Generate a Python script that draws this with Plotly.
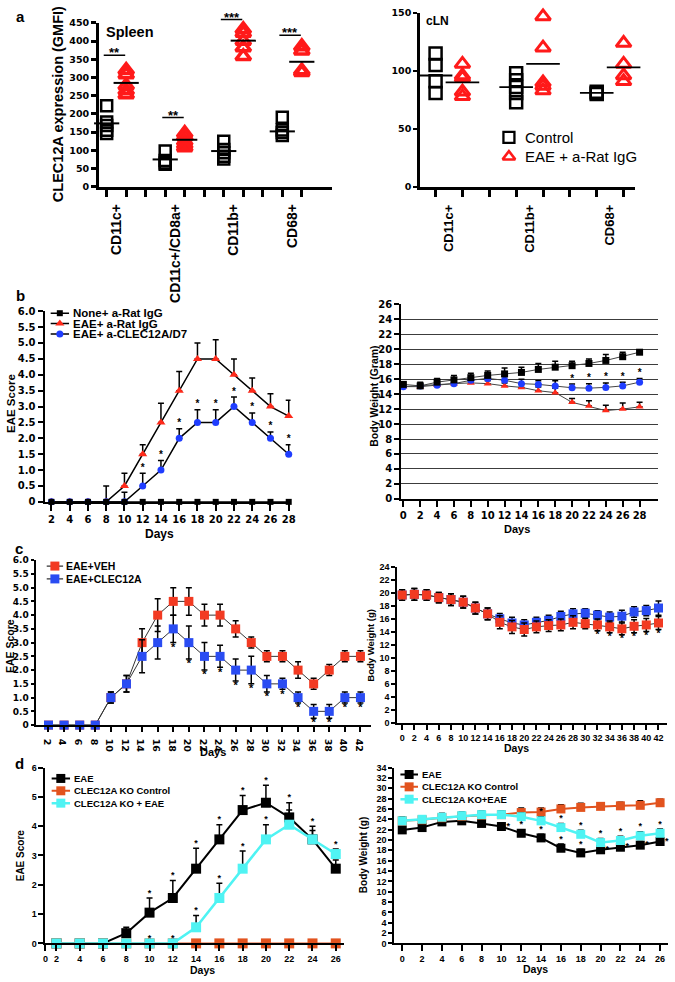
import plotly.graph_objects as go

W, H = 675, 982

# ======================= DATA =======================
# --- panel a, spleen ---
spleen_cats = ["CD11c+", "CD11c+/CD8a+", "CD11b+", "CD68+"]
spleen_ctrl = [[222, 178, 168, 155, 146], [98, 72, 65, 62], [125, 102, 93, 84, 76], [191, 156, 149, 141]]
spleen_eae = [[320, 308, 278, 264, 253], [147, 138, 125, 116, 108], [432, 422, 400, 382, 358], [385, 373, 319, 314]]
spleen_ctrl_mean = [174, 75, 98, 152]
spleen_eae_mean = [285, 129, 401, 343]
spleen_sig_y = [361, 190, 459, 416]
spleen_sig = ["**", "**", "***", "***"]
spleen_yticks = [0, 50, 100, 150, 200, 250, 300, 350, 400, 450]

# --- panel a, cLN ---
cln_cats = ["CD11c+", "CD11b+", "CD68+"]
cln_ctrl = [[115, 105, 91, 81], [98, 92, 86, 81, 73], [82, 81, 80]]
cln_eae = [[106, 96, 94, 82, 78], [147, 120, 90, 87, 83], [124, 106, 96, 91]]
cln_ctrl_mean = [96, 86, 81]
cln_eae_mean = [90, 106, 103]
cln_yticks = [0, 50, 100, 150]
cln_yticktext = ["0", "50", "100", "150"]

# --- panel b, EAE score ---
b_days = [2, 4, 6, 8, 10, 12, 14, 16, 18, 20, 22, 24, 26, 28]
b_none = [0, 0, 0, 0, 0, 0, 0, 0, 0, 0, 0, 0, 0, 0]
b_igg = [0, 0, 0, 0, 0.5, 1.5, 2.5, 3.5, 4.5, 4.5, 4.0, 3.5, 3.0, 2.7]
b_igg_err = [0, 0, 0, 0.5, 0.4, 0.3, 0.6, 0.6, 0.5, 0.6, 0.5, 0.4, 0.4, 0.5]
b_d7 = [0, 0, 0, 0, 0, 0.5, 1.0, 2.0, 2.5, 2.5, 3.0, 2.5, 2.0, 1.5]
b_d7_err = [0, 0, 0, 0, 0.3, 0.4, 0.3, 0.3, 0.4, 0.4, 0.3, 0.3, 0.2, 0.3]
b_d7_star = [0, 0, 0, 0, 0, 1, 1, 1, 1, 1, 1, 1, 1, 1]
b_names = ["None+ a-Rat IgG", "EAE+ a-Rat IgG", "EAE+ a-CLEC12A/D7"]
score_ticks = [0, 0.5, 1.0, 1.5, 2.0, 2.5, 3.0, 3.5, 4.0, 4.5, 5.0, 5.5, 6.0]
score_ticktext = ["0", "0.5", "1.0", "1.5", "2.0", "2.5", "3.0", "3.5", "4.0", "4.5", "5.0", "5.5", "6.0"]

# --- panel b, body weight ---
bw_days = [0, 2, 4, 6, 8, 10, 12, 14, 16, 18, 20, 22, 24, 26, 28]
bw_none = [15.3, 15.1, 15.6, 15.9, 16.2, 16.5, 16.7, 16.9, 17.3, 17.6, 17.8, 18.1, 18.5, 19.0, 19.6]
bw_none_err = [0.3, 0.5, 0.5, 0.6, 0.6, 0.6, 0.8, 0.7, 0.8, 0.8, 0.6, 0.6, 0.8, 0.6, 0.3]
bw_igg = [15.0, 15.0, 15.2, 15.4, 15.5, 15.4, 15.1, 14.9, 14.45, 14.2, 12.9, 12.4, 11.8, 12.0, 12.3]
bw_igg_err = [0.3, 0.3, 0.3, 0.4, 0.4, 0.4, 0.4, 0.5, 0.5, 0.6, 0.5, 0.7, 0.7, 0.8, 0.6]
bw_d7 = [15.0, 15.1, 15.2, 15.4, 15.85, 16.1, 15.85, 15.4, 15.3, 15.1, 14.85, 14.8, 14.9, 15.1, 15.6]
bw_d7_err = [0.3, 0.3, 0.3, 0.4, 0.4, 0.5, 0.5, 0.6, 0.5, 0.7, 0.5, 0.6, 0.6, 0.5, 0.5]
bw_d7_star = [0, 0, 0, 0, 0, 0, 0, 0, 0, 0, 1, 1, 1, 1, 1]
bw_ticks = [0, 2, 4, 6, 8, 10, 12, 14, 16, 18, 20, 22, 24, 26]

# --- panel c, EAE score ---
c_days = [2, 4, 6, 8, 10, 12, 14, 16, 18, 20, 22, 24, 26, 28, 30, 32, 34, 36, 38, 40, 42]
c_veh = [0, 0, 0, 0, 1.0, 1.5, 3.0, 4.0, 4.5, 4.5, 4.0, 4.0, 3.5, 3.0, 2.5, 2.5, 2.0, 1.5, 2.0, 2.5, 2.5]
c_veh_err = [0, 0, 0, 0, 0.2, 0.3, 0.5, 0.6, 0.5, 0.5, 0.4, 0.4, 0.3, 0.2, 0.2, 0.2, 0.3, 0.2, 0.2, 0.2, 0.2]
c_clec = [0, 0, 0, 0, 1.0, 1.5, 2.5, 3.0, 3.5, 3.0, 2.5, 2.5, 2.0, 2.0, 1.5, 1.5, 1.0, 0.5, 0.5, 1.0, 1.0]
c_clec_err = [0, 0, 0, 0, 0.2, 0.3, 0.6, 0.6, 0.5, 0.6, 0.5, 0.4, 0.4, 0.5, 0.3, 0.2, 0.2, 0.25, 0.25, 0.2, 0.2]
c_clec_star = [0, 0, 0, 0, 0, 0, 0, 0, 1, 1, 1, 1, 1, 1, 1, 1, 1, 1, 1, 1, 1]
c_names = ["EAE+VEH", "EAE+CLEC12A"]

# --- panel c, body weight ---
cw_days = [0, 2, 4, 6, 8, 10, 12, 14, 16, 18, 20, 22, 24, 26, 28, 30, 32, 34, 36, 38, 40, 42]
cw_veh = [19.7, 19.8, 19.7, 19.3, 19.0, 18.6, 17.7, 16.8, 15.5, 14.8, 14.4, 14.8, 15.0, 15.1, 15.5, 15.3, 15.1, 14.8, 14.5, 14.9, 15.1, 15.4]
cw_veh_err = [0.8, 0.9, 0.8, 0.8, 0.9, 0.9, 0.9, 0.9, 1.0, 1.0, 1.0, 0.9, 0.9, 0.9, 1.0, 0.8, 0.9, 0.9, 0.9, 1.0, 1.0, 1.0]
cw_clec = [19.7, 19.8, 19.7, 19.3, 19.0, 18.6, 17.7, 16.8, 16.05, 15.4, 15.1, 15.5, 15.8, 16.4, 16.8, 16.9, 16.6, 16.3, 16.45, 17.1, 17.3, 17.7]
cw_clec_err = [0.8, 0.9, 0.8, 0.8, 0.9, 0.9, 0.9, 0.9, 0.8, 0.9, 0.8, 0.8, 0.8, 0.8, 0.8, 0.7, 0.7, 0.8, 0.9, 0.8, 0.8, 1.1]
cw_veh_star = [0, 0, 0, 0, 0, 0, 0, 0, 0, 0, 0, 0, 0, 0, 0, 0, 1, 1, 1, 1, 1, 1]
cw_ticks = [0, 2, 4, 6, 8, 10, 12, 14, 16, 18, 20, 22, 24]

# --- panel d, EAE score ---
d_days = [2, 4, 6, 8, 10, 12, 14, 16, 18, 20, 22, 24, 26]
d_eae = [0, 0, 0, 0.35, 1.05, 1.55, 2.55, 3.55, 4.55, 4.8, 4.3, 3.55, 2.55]
d_eae_err = [0, 0, 0, 0.2, 0.5, 0.6, 0.7, 0.5, 0.5, 0.6, 0.5, 0.45, 0.3]
d_ko_ctrl = [0, 0, 0, 0, 0, 0, 0, 0, 0, 0, 0, 0, 0]
d_ko_eae = [0, 0, 0, 0, 0, 0, 0.55, 1.55, 2.55, 3.55, 4.05, 3.55, 3.05]
d_ko_eae_err = [0, 0, 0, 0, 0, 0, 0.4, 0.5, 0.6, 0.5, 0.5, 0.3, 0.17]
d_eae_star = [0, 0, 0, 0, 1, 1, 1, 1, 1, 1, 1, 1, 0]
d_ko_eae_star = [0, 0, 0, 0, 1, 1, 1, 1, 1, 1, 0, 0, 1]
d_xticktext = ["0", "2", "4", "6", "8", "10", "12", "14", "16", "18", "20", "22", "24", "26"]
d_names_left = ["EAE", "CLEC12A KO Control", "CLEC12A KO + EAE"]

# --- panel d, body weight ---
dw_days = [0, 2, 4, 6, 8, 10, 12, 14, 16, 18, 20, 22, 24, 26]
dw_eae = [21.95, 22.4, 23.5, 23.7, 23.2, 22.6, 21.3, 20.4, 18.4, 17.5, 18.1, 18.6, 19.0, 19.7]
dw_eae_err = [0.6, 0.6, 0.6, 0.6, 0.6, 0.7, 0.7, 0.7, 0.8, 0.7, 0.7, 0.6, 0.7, 0.7]
dw_ko_ctrl = [23.7, 23.9, 24.3, 24.6, 24.8, 24.9, 25.3, 25.4, 26.0, 26.3, 26.5, 26.6, 26.7, 27.2]
dw_ko_ctrl_err = [0.7, 0.7, 0.8, 0.7, 0.7, 0.7, 0.9, 0.8, 0.8, 0.8, 0.7, 0.7, 0.9, 0.7]
dw_ko_eae = [23.7, 24.0, 24.4, 24.7, 24.9, 24.9, 24.5, 23.7, 22.4, 21.1, 19.5, 19.9, 20.8, 21.3]
dw_ko_eae_err = [0.7, 0.7, 0.7, 0.7, 0.7, 0.7, 0.7, 0.8, 0.8, 0.8, 0.8, 0.8, 0.8, 0.8]
dw_eae_star_top = [0, 0, 0, 0, 0, 0, 1, 1, 1, 1, 0, 0, 0, 0]
dw_eae_star_side = [0, 0, 0, 0, 0, 1, 0, 0, 0, 0, 1, 1, 1, 1]
dw_ko_eae_star = [0, 0, 0, 0, 0, 0, 0, 1, 1, 1, 1, 1, 1, 1]
dw_ticks = [0, 2, 4, 6, 8, 10, 12, 14, 16, 18, 20, 22, 24, 26, 28, 30, 32, 34]
d_names_right = ["EAE", "CLEC12A KO Control", "CLEC12A KO+EAE"]

# ======================= STYLE =======================
ARIAL = "Liberation Sans, Arial, sans-serif"
DEJAVU = "DejaVu Sans, sans-serif"
RED_B = "#ff2a1a"
BLUE_B = "#1f3dff"
RED_C = "#f23a22"
BLUE_C = "#2a4cf2"
RED_D = "#e2531e"
CYAN_D = "#4ff3f3"


def dx(l, r):
    return [l / W, r / W]


def dy(t, b):
    return [1 - b / H, 1 - t / H]


def px2x(p):
    return p / W


def px2y(p):
    return 1 - p / H


fig = go.Figure()
layout = dict(width=W, height=H, margin=dict(l=0, r=0, t=0, b=0),
              paper_bgcolor="white", plot_bgcolor="rgba(0,0,0,0)", showlegend=False,
              font=dict(family=ARIAL, color="black"))
annotations = []
shapes = []


def axis(domain, anchor, rng, tickfont, **kw):
    d = dict(domain=domain, anchor=anchor, range=rng, showline=True, linecolor="black",
             linewidth=2, ticks="outside", tickcolor="black", tickwidth=1.8, ticklen=5,
             showgrid=False, zeroline=False, tickfont=tickfont, fixedrange=True)
    d.update(kw)
    return d


def bold(size, fam=ARIAL):
    return dict(family=fam, size=size, color="black", weight="bold")


def ann(text, x, y, size, angle=0, weight="bold", xanchor="center", yanchor="middle", fam=ARIAL):
    annotations.append(dict(text=text, x=px2x(x), y=px2y(y), xref="paper", yref="paper",
                            showarrow=False, textangle=angle, xanchor=xanchor, yanchor=yanchor,
                            font=dict(family=fam, size=size, color="black", weight=weight)))


def series(xa, ya, x, y, color, symbol, size, lcolor, lwidth, up=None, down=None, mlw=0,
           mode="lines+markers", ecolor="black"):
    err = None
    if up is not None:
        err = dict(type="data", symmetric=False, array=up,
                   arrayminus=down if down is not None else [0] * len(up),
                   color=ecolor, thickness=1.5, width=3, visible=True)
    fig.add_trace(go.Scatter(x=x, y=y, xaxis=xa, yaxis=ya, mode=mode,
                             line=dict(color=lcolor, width=lwidth),
                             marker=dict(symbol=symbol, size=size, color=color,
                                         line=dict(width=mlw, color=color)),
                             error_y=err, cliponaxis=False, hoverinfo="skip"))


def stars(xa, ya, x, base, flags, pos, size=10, text="*"):
    xs = [xi for xi, f in zip(x, flags) if f]
    ys = [bi for bi, f in zip(base, flags) if f]
    fig.add_trace(go.Scatter(x=xs, y=ys, xaxis=xa, yaxis=ya, mode="text", text=[text] * len(xs),
                             textposition=pos, textfont=bold(size), cliponaxis=False,
                             hoverinfo="skip"))


# ======================= PANEL a (spleen) =======================
ax_x = []
for i, cat in enumerate(spleen_cats):
    pc, pe = 3 * i + 1, 3 * i + 2
    fig.add_trace(go.Scatter(x=[pc] * len(spleen_ctrl[i]), y=spleen_ctrl[i], xaxis="x", yaxis="y",
                             mode="markers", cliponaxis=False,
                             marker=dict(symbol="square-open", size=11, color="black",
                                         line=dict(width=2.5, color="black"))))
    fig.add_trace(go.Scatter(x=[pe] * len(spleen_eae[i]), y=spleen_eae[i], xaxis="x", yaxis="y",
                             mode="markers", cliponaxis=False,
                             marker=dict(symbol="triangle-up-open", size=13, color="#ff1a1a",
                                         line=dict(width=3.5, color="#ff1a1a"))))
    fig.add_trace(go.Scatter(x=[pc, pe], y=[spleen_ctrl_mean[i], spleen_eae_mean[i]], xaxis="x",
                             yaxis="y", mode="markers", cliponaxis=False,
                             marker=dict(symbol="line-ew-open", size=18, color="black",
                                         line=dict(width=2, color="black"))))
    yd = spleen_sig_y[i] / spleen_yticks[-1]
    shapes.append(dict(type="line", xref="x", yref="y domain", x0=pc - 0.15, x1=pe - 0.05,
                       y0=yd, y1=yd, line=dict(color="black", width=1.5)))
    annotations.append(dict(text=spleen_sig[i], xref="x", yref="y domain", x=(pc + pe) / 2 - 0.1,
                            y=yd, yanchor="bottom", yshift=-7, showarrow=False,
                            font=bold(13)))
    ax_x.append(pc + 0.5)

n = len(spleen_cats)
layout["xaxis"] = axis(dx(97, 333), "y", [0.6, 3 * n + 0.55], bold(14),
                       tickmode="array", tickvals=ax_x, ticktext=spleen_cats, tickangle=-90,
                       ticklen=9, tickcolor="rgba(0,0,0,0)", linewidth=2.5,
                       minor=dict(tickmode="array", tickvals=list(range(1, 3 * n)), ticks="outside",
                                  ticklen=7, tickwidth=2.5, tickcolor="black"))
layout["yaxis"] = axis(dy(17, 183), "x", [0, spleen_yticks[-1]], bold(9.5, DEJAVU),
                       tickmode="array", tickvals=spleen_yticks, linewidth=2.5, tickwidth=2.5, ticklen=5)
ann("CLEC12A expression (GMFI)", 55, 99, 14.5, angle=-90)
ann("Spleen", 102, 26, 14.5, xanchor="left")
ann("a", 11, 11, 15, xanchor="left")

# ======================= PANEL a (cLN) =======================
ax_x2 = []
for i, cat in enumerate(cln_cats):
    pc, pe = 3 * i + 1, 3 * i + 2
    fig.add_trace(go.Scatter(x=[pc] * len(cln_ctrl[i]), y=cln_ctrl[i], xaxis="x2", yaxis="y2",
                             mode="markers", cliponaxis=False,
                             marker=dict(symbol="square-open", size=12, color="black",
                                         line=dict(width=2.5, color="black"))))
    fig.add_trace(go.Scatter(x=[pe] * len(cln_eae[i]), y=cln_eae[i], xaxis="x2", yaxis="y2",
                             mode="markers", cliponaxis=False,
                             marker=dict(symbol="triangle-up-open", size=13, color="#ff1a1a",
                                         line=dict(width=3, color="#ff1a1a"))))
    fig.add_trace(go.Scatter(x=[pc, pe], y=[cln_ctrl_mean[i], cln_eae_mean[i]], xaxis="x2",
                             yaxis="y2", mode="markers", cliponaxis=False,
                             marker=dict(symbol="line-ew-open", size=24, color="black",
                                         line=dict(width=1.8, color="black"))))
    ax_x2.append(pc + 0.5)
m = len(cln_cats)
layout["xaxis2"] = axis(dx(422, 640), "y2", [0.42, 3 * m - 0.56], bold(13),
                        tickmode="array", tickvals=ax_x2, ticktext=cln_cats, tickangle=-90,
                        ticklen=10, tickcolor="rgba(0,0,0,0)", linewidth=2.5,
                        minor=dict(tickmode="array", tickvals=list(range(1, 3 * m)), ticks="outside",
                                   ticklen=7, tickwidth=2.5, tickcolor="black"))
layout["yaxis2"] = axis(dy(7, 183), "x2", [0, cln_yticks[-1]], bold(9.5, DEJAVU),
                        tickmode="array", tickvals=cln_yticks, ticktext=cln_yticktext,
                        linewidth=2.5, ticklen=4)
ann("cLN", 426, 15, 12, xanchor="left")

# ======================= PANEL b (score) =======================
series("x3", "y3", b_days, b_igg, RED_B, "triangle-up", 8, "black", 1.5, up=b_igg_err)
series("x3", "y3", b_days, b_d7, BLUE_B, "circle", 7, "black", 1.5, up=b_d7_err)
series("x3", "y3", b_days, b_none, "black", "square", 6, "black", 1.5)
stars("x3", "y3", b_days, [v + e for v, e in zip(b_d7, b_d7_err)], b_d7_star, "top center", 10)
layout["xaxis3"] = axis(dx(42, 291), "y3", [1.24, 28.2], bold(10, DEJAVU),
                        tickmode="array", tickvals=b_days, ticklen=7)
layout["yaxis3"] = axis(dy(309, 502), "x3", [0, 6.0], bold(10, DEJAVU),
                        tickmode="array", tickvals=score_ticks, ticktext=score_ticktext)
ann("EAE Score", 8, 402, 11.5, angle=-90)
ann("Days", 158, 535, 12)
ann("b", 11, 293, 15, xanchor="left")

# ======================= PANEL b (weight) =======================
series("x4", "y4", bw_days, bw_igg, RED_B, "triangle-up", 7, "#444444", 1, up=bw_igg_err)
series("x4", "y4", bw_days, bw_d7, BLUE_B, "circle", 7, "#444444", 1, up=bw_d7_err)
series("x4", "y4", bw_days, bw_none, "black", "square", 7, "#444444", 1, up=bw_none_err)
stars("x4", "y4", bw_days, [v + e for v, e in zip(bw_d7, bw_d7_err)], bw_d7_star, "top center", 10)
layout["xaxis4"] = axis(dx(403, 663), "y4", [-0.25, 30.2], bold(10, DEJAVU),
                        tickmode="array", tickvals=bw_days, ticklen=6)
layout["yaxis4"] = axis(dy(302, 499), "x4", [0, 26], bold(10, DEJAVU),
                        tickmode="array", tickvals=bw_ticks, showgrid=True,
                        gridcolor="#3c3c3c", gridwidth=1.3)
ann("Body Weight (Gram)", 376, 395, 10.5, angle=-90)
ann("Days", 520, 529, 11)

# ======================= PANEL c (score) =======================
series("x5", "y5", c_days, c_veh, RED_C, "square", 9, "#333333", 1, up=c_veh_err, down=c_veh_err)
series("x5", "y5", c_days, c_clec, BLUE_C, "square", 9, "#333333", 1, up=c_clec_err, down=c_clec_err)
stars("x5", "y5", c_days, [v - e for v, e in zip(c_clec, c_clec_err)], c_clec_star, "bottom center", 11)
layout["xaxis5"] = axis(dx(33, 372), "y5", [0.35, 43.3], bold(9.5, DEJAVU),
                        tickmode="array", tickvals=c_days, ticklen=5)
layout["yaxis5"] = axis(dy(561, 728), "x5", [0, 6.0], bold(9, DEJAVU),
                        tickmode="array", tickvals=score_ticks, ticktext=score_ticktext, ticklen=3)
ann("EAE Score", 7, 648, 10.5, angle=-90)
ann("Days", 213, 755, 11)
ann("c", 10, 549, 15, xanchor="left")

# ======================= PANEL c (weight) =======================
series("x6", "y6", cw_days, cw_clec, BLUE_C, "square", 9, "#333333", 1, up=cw_clec_err, down=cw_clec_err)
series("x6", "y6", cw_days, cw_veh, RED_C, "square", 9, "#333333", 1, up=cw_veh_err, down=cw_veh_err)
stars("x6", "y6", cw_days, [v - e for v, e in zip(cw_veh, cw_veh_err)], cw_veh_star, "bottom center", 10)
layout["xaxis6"] = axis(dx(399, 672), "y6", [-0.8, 43.4], bold(9),
                        tickmode="array", tickvals=cw_days, ticklen=5)
layout["yaxis6"] = axis(dy(568, 726), "x6", [0, 24], bold(9),
                        tickmode="array", tickvals=cw_ticks, ticklen=4)
ann("Body Weight (g)", 372, 647, 9.5, angle=-90)
ann("Days", 520, 751, 10.5)

# ======================= PANEL d (score) =======================
series("x7", "y7", d_days, d_eae, "black", "square", 10, "black", 2, up=d_eae_err)
series("x7", "y7", d_days, d_ko_ctrl, RED_D, "square", 10, RED_D, 2)
series("x7", "y7", d_days, d_ko_eae, CYAN_D, "square", 10, CYAN_D, 2.5, up=d_ko_eae_err)
stars("x7", "y7", d_days, [v + e for v, e in zip(d_eae, d_eae_err)], d_eae_star, "top center", 9)
stars("x7", "y7", d_days, [v + e for v, e in zip(d_ko_eae, d_ko_eae_err)], d_ko_eae_star, "top center", 9)
layout["xaxis7"] = axis(dx(43, 345), "y7", [1.06, 26.7], bold(9),
                        tickmode="array", tickvals=[1.06] + d_days, ticktext=d_xticktext, ticklen=6)
layout["yaxis7"] = axis(dy(771, 949), "x7", [0, 6], bold(9),
                        tickmode="array", tickvals=[0, 1, 2, 3, 4, 5, 6], ticklen=5)
ann("EAE Score", 18, 860, 10, angle=-90)
ann("Days", 202, 976, 10.5)
ann("d", 10, 767, 15, xanchor="left")

# ======================= PANEL d (weight) =======================
series("x8", "y8", dw_days, dw_eae, "black", "square", 9, "black", 2, up=dw_eae_err)
series("x8", "y8", dw_days, dw_ko_ctrl, RED_D, "square", 9, RED_D, 2, up=dw_ko_ctrl_err)
series("x8", "y8", dw_days, dw_ko_eae, CYAN_D, "square", 9, CYAN_D, 2.5, up=dw_ko_eae_err)
stars("x8", "y8", dw_days, [v + e for v, e in zip(dw_eae, dw_eae_err)], dw_eae_star_top, "top center", 9)
stars("x8", "y8", dw_days, dw_eae, dw_eae_star_side, "middle right", 9, text="  *")
stars("x8", "y8", dw_days, [v + e for v, e in zip(dw_ko_eae, dw_ko_eae_err)], dw_ko_eae_star, "top center", 9)
layout["xaxis8"] = axis(dx(396, 673), "y8", [-0.8, 26.8], bold(9),
                        tickmode="array", tickvals=dw_days, ticklen=6)
layout["yaxis8"] = axis(dy(771, 949), "x8", [0, 34], bold(9),
                        tickmode="array", tickvals=dw_ticks, ticklen=4)
ann("Body Weight (g)", 365, 860, 10, angle=-90)
ann("Days", 539, 975, 10.5)

# ======================= custom legends =======================
leg_id = [9]


def legend(x0, x1, ytop, gap, entries, text_x, size, weight="bold", line=True):
    k = leg_id[0]
    leg_id[0] += 1
    nrow = len(entries)
    xa, ya = "x%d" % k, "y%d" % k
    layout["xaxis%d" % k] = dict(domain=dx(x0, x1), anchor=ya, range=[0, 1], visible=False, fixedrange=True)
    layout["yaxis%d" % k] = dict(domain=dy(ytop - gap / 2, ytop + (nrow - 0.5) * gap), anchor=xa,
                                 range=[nrow - 0.5, -0.5], visible=False, fixedrange=True)
    for r, (name, color, symbol, msize, lcolor, lwidth, mlw) in enumerate(entries):
        if line:
            fig.add_trace(go.Scatter(x=[0, 1], y=[r, r], xaxis=xa, yaxis=ya, mode="lines",
                                     line=dict(color=lcolor, width=lwidth), cliponaxis=False))
        fig.add_trace(go.Scatter(x=[0.5], y=[r], xaxis=xa, yaxis=ya, mode="markers", cliponaxis=False,
                                 marker=dict(symbol=symbol, size=msize, color=color,
                                             line=dict(width=mlw, color=color))))
        ann(name, text_x, ytop + r * gap, size, weight=weight, xanchor="left")


legend(505, 519, 133, 19.5, [("Control", "black", "square-open", 11, None, 0, 2.3),
                             ("EAE + a-Rat IgG", "#ff1a1a", "triangle-up-open", 11, None, 0, 2.5)],
       526, 15, weight="normal", line=False)
legend(48, 67, 311, 10.5, [(b_names[0], "black", "square", 6, "black", 1.5, 0),
                           (b_names[1], RED_B, "triangle-up", 8, "black", 1.5, 0),
                           (b_names[2], BLUE_B, "circle", 7, "black", 1.5, 0)],
       69, 11.5)
legend(44, 61, 567, 13, [(c_names[0], RED_C, "square", 9, "#333333", 1.2, 0),
                         (c_names[1], BLUE_C, "square", 9, "#333333", 1.2, 0)],
       62, 10.5)
legend(49, 68, 782, 12.5, [(d_names_left[0], "black", "square", 9, "black", 2, 0),
                           (d_names_left[1], RED_D, "square", 9, RED_D, 2, 0),
                           (d_names_left[2], CYAN_D, "square", 9, CYAN_D, 2.5, 0)],
       70, 9.5)
legend(402, 420, 778, 12.5, [(d_names_right[0], "black", "square", 9, "black", 2, 0),
                             (d_names_right[1], RED_D, "square", 9, RED_D, 2, 0),
                             (d_names_right[2], CYAN_D, "square", 9, CYAN_D, 2.5, 0)],
       422, 9.5)

layout["annotations"] = annotations
layout["shapes"] = shapes
fig.update_layout(**layout)
fig.update_traces(showlegend=False, hoverinfo="skip")
fig.write_html("out.html", config={"displayModeBar": False},
               post_script="document.body.style.margin='0';document.body.style.padding='0';")
